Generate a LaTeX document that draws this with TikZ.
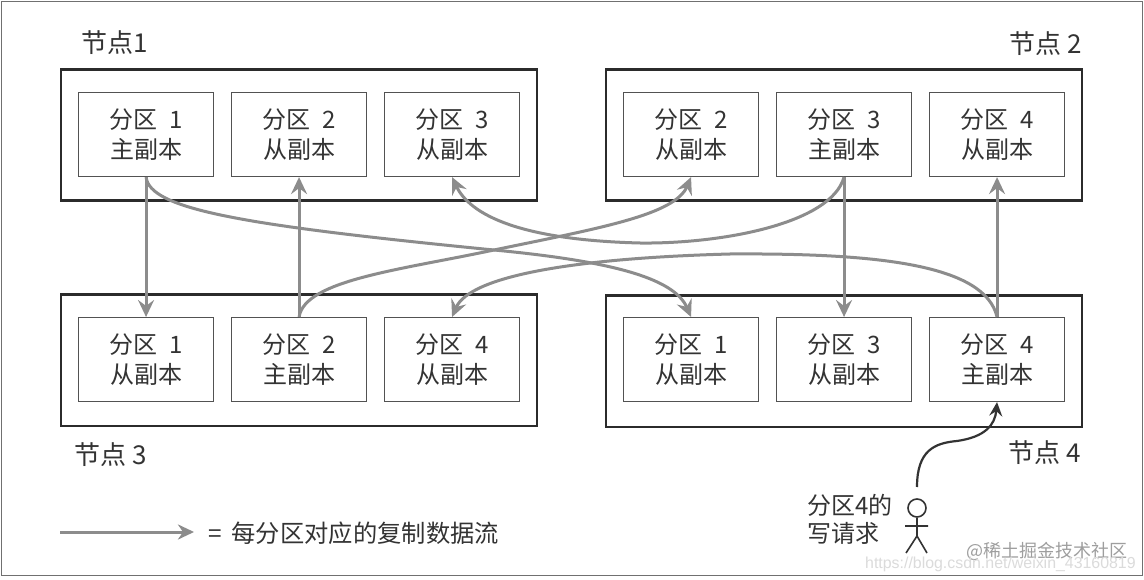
\documentclass[tikz,border=0pt]{standalone}
\usepackage{fontspec}
\setmainfont{Noto Sans CJK SC}
\newfontfamily\wmfont{Liberation Sans}
\usetikzlibrary{arrows.meta}
\definecolor{ink}{HTML}{333333}
\definecolor{flow}{HTML}{8C8C8C}
\newcommand{\gp}{\kern 12pt}
\tikzset{
  x=1pt,y=-1pt,
  outerbox/.style={draw=ink!85!black,line width=2.8pt,minimum width=476pt,minimum height=131pt,inner sep=0pt,anchor=north west},
  partbox/.style={draw=ink!85,line width=1.1pt,minimum width=135pt,minimum height=84pt,inner sep=0pt,anchor=north west,text=ink,align=center,
    font=\fontsize{24}{30}\selectfont},
  nodelabel/.style={text=ink,inner sep=0pt,font=\fontsize{26}{28}\selectfont},
  plainlabel/.style={text=ink,inner sep=0pt,align=left,font=\fontsize{24}{28}\selectfont},
  flowline/.style={draw=flow,line width=3pt,-{Stealth[length=17pt,width=16pt,inset=6pt]}},
  writeline/.style={draw=ink,line width=2.2pt,-{Stealth[length=14pt,width=13pt,inset=5pt]}},
  person/.style={draw=ink,line width=1.6pt},
  wm/.style={inner sep=0pt,anchor=west}
}
\begin{document}
\begin{tikzpicture}
\useasboundingbox (0,0) rectangle (1144,580);
\fill[white] (0,0) rectangle (1144,580);
\node[draw=ink!70,line width=1.4pt,minimum width=1141pt,minimum height=574pt,inner sep=0pt,anchor=north west] (frame) at (1,1) {};
% outer boxes
\node[outerbox] (n1) at (59.5,68.5) {};
\node[outerbox] (n2) at (604.5,68.5) {};
\node[outerbox] (n3) at (59.5,293.5) {};
\node[outerbox] (n4) at (604.5,294.5) {};
% node labels
\node[nodelabel,anchor=west] (l1) at (81,43) {节点1};
\node[nodelabel,anchor=east] (l2) at (1082,44) {节点 2};
\node[nodelabel,anchor=west] (l3) at (74,455) {节点 3};
\node[nodelabel,anchor=east] (l4) at (1081,453) {节点 4};
% partitions
\node[partbox] (a1) at (78,92) {分区\gp 1\\主副本};
\node[partbox] (a2) at (231,92) {分区\gp 2\\从副本};
\node[partbox] (a3) at (384,92) {分区\gp 3\\从副本};
\node[partbox] (b2) at (623,92) {分区\gp 2\\从副本};
\node[partbox] (b3) at (776,92) {分区\gp 3\\主副本};
\node[partbox] (b4) at (929,92) {分区\gp 4\\从副本};
\node[partbox] (c1) at (78,317) {分区\gp 1\\从副本};
\node[partbox] (c2) at (231,317) {分区\gp 2\\主副本};
\node[partbox] (c3) at (384,317) {分区\gp 4\\从副本};
\node[partbox] (d1) at (623,317) {分区\gp 1\\从副本};
\node[partbox] (d3) at (776,317) {分区\gp 3\\从副本};
\node[partbox] (d4) at (929,317) {分区\gp 4\\主副本};
% straight flows
\draw[flowline] (a1.south) -- (c1.north);
\draw[flowline] (c2.north) -- (a2.south);
\draw[flowline] (b3.south) -- (d3.north);
\draw[flowline] (d4.north) -- (b4.south);
% curved flows
\draw[flowline] (a1.south) .. controls +(4,32) and (240,225) .. (494,250) .. controls (620,262) and (675,280) .. (d1.north);
\draw[flowline] (c2.north) .. controls +(6,-37) and (400,270) .. (494,250) .. controls (600,228) and (675,215) .. (b2.south);
\draw[flowline] (b3.south) .. controls +(-13,47) and (720,244) .. (640,243) .. controls (520,240) and (470,215) .. (a3.south);
\draw[flowline] (d4.north) .. controls +(-12,-52) and (880,253) .. (730,254) .. controls (580,258) and (470,275) .. (c3.north);
% write request
\coordinate (w0) at (917,487);
\draw[writeline] (w0) .. controls (917,450) and (935,443) .. (957,441) .. controls (985,437) and (995,425) .. (d4.south);
\node[draw=ink,line width=1.6pt,circle,minimum size=18pt,inner sep=0pt] (head) at (917,508) {};
\coordinate (hip) at (917,536);
\coordinate (armL) at (905,526);
\coordinate (armR) at (928,526);
\coordinate (legL) at (906,553);
\coordinate (legR) at (927,553);
\draw[person] (head.south) -- (hip) (armL) -- (armR) (legL) -- (hip) -- (legR);
\node[plainlabel,anchor=north west] (req) at (807,494) {分区4的\\写请求};
% legend
\coordinate (k0) at (60,532);
\coordinate (k1) at (194,532);
\draw[draw=flow,line width=3pt,-{Stealth[length=16pt,width=15pt,inset=5pt]}] (k0) -- (k1);
\node[text=ink,inner sep=0pt,anchor=west,font=\fontsize{24.3}{28}\selectfont] (legend) at (208,533) {=\kern 10pt 每分区对应的复制数据流};
% watermarks
\node[wm,text=black!38,font=\fontsize{18}{20}\selectfont] (wm1) at (966,551) {@稀土掘金技术社区};
\node[wm,text=black!14,font=\fontsize{15.9}{18}\wmfont] (wm2) at (865,564) {https://blog.csdn.net/weixin\_43160819};
\end{tikzpicture}
\end{document}
